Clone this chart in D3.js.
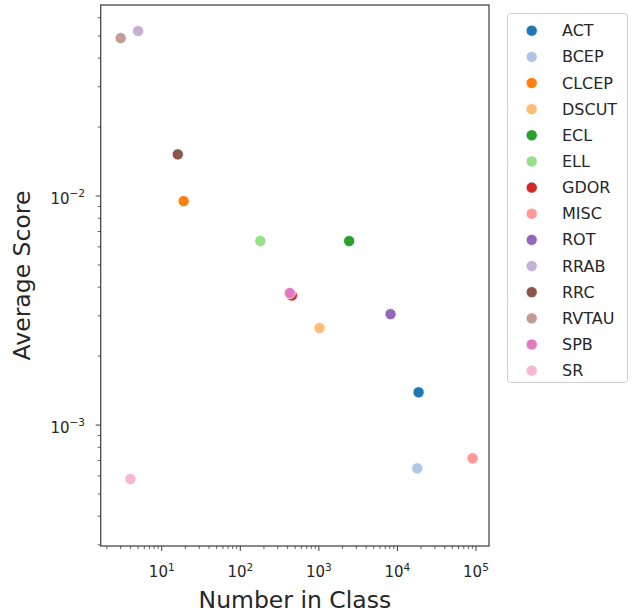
<!DOCTYPE html>
<html>
<head>
<meta charset="utf-8">
<script src="https://cdn.jsdelivr.net/npm/d3@7"></script>
<style>
  html, body { margin: 0; padding: 0; background: #fff; }
  svg { display: block; font-family: "DejaVu Sans", sans-serif; }
</style>
</head>
<body>
<svg id="chart" width="642" height="613"></svg>
<script>
// Variable-star classes: class size vs. average score
const classes = ["ACT", "BCEP", "CLCEP", "DSCUT", "ECL", "ELL", "GDOR", "MISC", "ROT", "RRAB", "RRC", "RVTAU", "SPB", "SR"];
const counts  = [18600, 17900, 19, 1020, 2430, 180, 453, 90600, 8170, 5, 16, 3, 427, 4];
const scores  = [0.00139, 0.000647, 0.0095, 0.00265, 0.00636, 0.00636, 0.00368, 0.000716, 0.00305, 0.0525, 0.0152, 0.0489, 0.00377, 0.000581];
const colors  = ["#1f77b4", "#aec7e8", "#ff7f0e", "#ffbb78", "#2ca02c", "#98df8a", "#d62728", "#ff9896", "#9467bd", "#c5b0d5", "#8c564b", "#c49c94", "#e377c2", "#f7b6d2"];
const xTickExps = [1, 2, 3, 4, 5];
const yTickExps = [-3, -2];

const points = classes.map((c, i) => ({ name: c, n: counts[i], score: scores[i], color: colors[i] }));

const svg = d3.select("#chart");
const plot = { left: 100.7, right: 489, top: 5, bottom: 546 };

const x = d3.scaleLog().domain([Math.pow(10, 0.223), Math.pow(10, 5.166)]).range([plot.left, plot.right]);
const y = d3.scaleLog().domain([Math.pow(10, -3.528), Math.pow(10, -1.166)]).range([plot.bottom, plot.top]);

const axisColor = "#3a3a3a";

// minor ticks at 2..9 of each decade inside the domain
function minorTicks(scale) {
  const [a, b] = scale.domain();
  const out = [];
  for (let e = Math.floor(Math.log10(a)); e <= Math.ceil(Math.log10(b)); e++) {
    for (let m = 2; m <= 9; m++) {
      const v = m * Math.pow(10, e);
      if (v >= a && v <= b) out.push(v);
    }
  }
  return out;
}

function powerLabel(sel, exp) {
  sel.append("tspan").text("10");
  sel.append("tspan")
    .attr("font-size", 10.5)
    .attr("dy", -6.5)
    .text(exp < 0 ? "\u2212" + Math.abs(exp) : String(exp));
}

// x axis
const xAxis = svg.append("g").attr("class", "x-axis");
xAxis.selectAll("line.minor").data(minorTicks(x)).join("line")
  .attr("class", "minor")
  .attr("x1", d => x(d)).attr("x2", d => x(d))
  .attr("y1", plot.bottom).attr("y2", plot.bottom + 3)
  .attr("stroke", axisColor).attr("stroke-width", 0.8);
xAxis.selectAll("line.major").data(xTickExps).join("line")
  .attr("class", "major")
  .attr("x1", d => x(Math.pow(10, d))).attr("x2", d => x(Math.pow(10, d)))
  .attr("y1", plot.bottom).attr("y2", plot.bottom + 5)
  .attr("stroke", axisColor).attr("stroke-width", 1);
xAxis.selectAll("text").data(xTickExps).join("text")
  .attr("x", d => x(Math.pow(10, d)))
  .attr("y", 577)
  .attr("text-anchor", "middle")
  .attr("font-size", 15)
  .attr("fill", "#262626")
  .each(function (d) { powerLabel(d3.select(this), d); });

// y axis
const yAxis = svg.append("g").attr("class", "y-axis");
yAxis.selectAll("line.minor").data(minorTicks(y)).join("line")
  .attr("class", "minor")
  .attr("x1", plot.left - 3).attr("x2", plot.left)
  .attr("y1", d => y(d)).attr("y2", d => y(d))
  .attr("stroke", axisColor).attr("stroke-width", 0.8);
yAxis.selectAll("line.major").data(yTickExps).join("line")
  .attr("class", "major")
  .attr("x1", plot.left - 5).attr("x2", plot.left)
  .attr("y1", d => y(Math.pow(10, d))).attr("y2", d => y(Math.pow(10, d)))
  .attr("stroke", axisColor).attr("stroke-width", 1);
yAxis.selectAll("text").data(yTickExps).join("text")
  .attr("x", 85)
  .attr("y", d => y(Math.pow(10, d)) + 7.5)
  .attr("text-anchor", "end")
  .attr("font-size", 15)
  .attr("fill", "#262626")
  .each(function (d) { powerLabel(d3.select(this), d); });

// frame
svg.append("rect")
  .attr("x", plot.left).attr("y", plot.top)
  .attr("width", plot.right - plot.left).attr("height", plot.bottom - plot.top)
  .attr("fill", "none").attr("stroke", axisColor).attr("stroke-width", 1.2);

// axis titles
svg.append("text")
  .attr("x", (plot.left + plot.right) / 2).attr("y", 607.5)
  .attr("text-anchor", "middle").attr("font-size", 23.5).attr("fill", "#262626")
  .text("Number in Class");
svg.append("text")
  .attr("transform", `translate(30,${(plot.top + plot.bottom) / 2}) rotate(-90)`)
  .attr("text-anchor", "middle").attr("font-size", 23.5).attr("fill", "#262626")
  .text("Average Score");

// points
svg.append("g").selectAll("circle").data(points).join("circle")
  .attr("cx", d => x(d.n))
  .attr("cy", d => y(d.score))
  .attr("r", 5.6)
  .attr("fill", d => d.color)
  .attr("stroke", "#fff").attr("stroke-width", 0.75);

// legend
const legend = svg.append("g").attr("class", "legend");
legend.append("rect")
  .attr("x", 507.5).attr("y", 13.5).attr("width", 120).attr("height", 369)
  .attr("rx", 3).attr("fill", "#fff").attr("stroke", "#d0d0d0").attr("stroke-width", 1);
const item = legend.selectAll("g.item").data(points).join("g")
  .attr("class", "item")
  .attr("transform", (d, i) => `translate(0,${30.7 + i * 26.15})`);
item.append("circle").attr("cx", 531.7).attr("cy", 0).attr("r", 5.6)
  .attr("fill", d => d.color).attr("stroke", "#fff").attr("stroke-width", 0.75);
item.append("text").attr("x", 562).attr("y", 5.5)
  .attr("font-size", 16).attr("fill", "#262626")
  .text(d => d.name);
</script>
</body>
</html>
